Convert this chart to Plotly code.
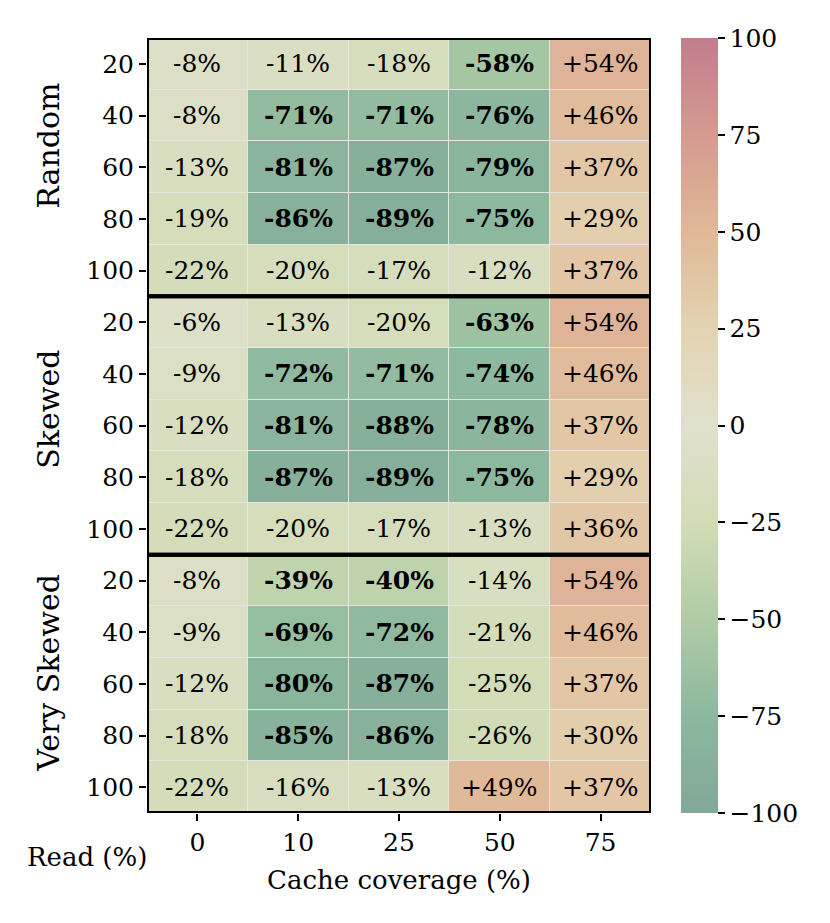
import plotly.graph_objects as go

# data
coverage = ["0", "10", "25", "50", "75"]
reads = ["20", "40", "60", "80", "100"]
groups = ["Random", "Skewed", "Very Skewed"]

random_vals = [
    [-8, -11, -18, -58, 54],
    [-8, -71, -71, -76, 46],
    [-13, -81, -87, -79, 37],
    [-19, -86, -89, -75, 29],
    [-22, -20, -17, -12, 37],
]
skewed_vals = [
    [-6, -13, -20, -63, 54],
    [-9, -72, -71, -74, 46],
    [-12, -81, -88, -78, 37],
    [-18, -87, -89, -75, 29],
    [-22, -20, -17, -13, 36],
]
very_skewed_vals = [
    [-8, -39, -40, -14, 54],
    [-9, -69, -72, -21, 46],
    [-12, -80, -87, -25, 37],
    [-18, -85, -86, -26, 30],
    [-22, -16, -13, 49, 37],
]

z = random_vals + skewed_vals + very_skewed_vals
n_rows = len(z)
n_cols = len(coverage)

colorscale = [
    [0.0, "#82a898"],
    [0.125, "#8cb89e"],
    [0.25, "#b0cca6"],
    [0.375, "#d2dcb6"],
    [0.5, "#e0e0cc"],
    [0.625, "#e3d3b1"],
    [0.75, "#e0b898"],
    [0.875, "#d69a90"],
    [1.0, "#c17e8c"],
]

font = "DejaVu Serif"
fs = 25

fig = go.Figure(go.Heatmap(
    z=z,
    x=list(range(n_cols)),
    y=list(range(n_rows)),
    zmin=-100, zmax=100,
    colorscale=colorscale,
    xgap=1, ygap=1,
    hoverinfo="skip",
    colorbar=dict(
        x=1.06, xanchor="left", xpad=0, y=0.5, yanchor="middle", ypad=0,
        len=1.0, lenmode="fraction",
        thickness=37, outlinewidth=0,
        tickvals=[-100, -75, -50, -25, 0, 25, 50, 75, 100],
        ticktext=["\u2212100", "\u221275", "\u221250", "\u221225", "0", "25", "50", "75", "100"],
        ticks="outside", ticklen=7, tickwidth=1.5, tickcolor="black",
        tickfont=dict(family=font, size=fs, color="black"),
    ),
))

# cell labels
for r, row in enumerate(z):
    for c, v in enumerate(row):
        label = f"{v:+d}%" if v > 0 else f"{v}%"
        if v <= -30:
            label = f"<b>{label}</b>"
        fig.add_annotation(x=c, y=r, text=label, showarrow=False,
                           font=dict(family=font, size=fs, color="black"))

# panel borders and group labels (labels sit a little above each panel's middle)
label_shift = [-0.41, -0.32, -0.21]
for g, name in enumerate(groups):
    y0 = g * len(reads) - 0.5
    y1 = (g + 1) * len(reads) - 0.5
    fig.add_shape(type="rect", xref="x", yref="y", x0=-0.5, x1=n_cols - 0.5,
                  y0=y0, y1=y1, line=dict(color="black", width=4))
    fig.add_annotation(xref="paper", yref="y", x=-0.195, y=(y0 + y1) / 2 + label_shift[g],
                       text=name, textangle=-90, showarrow=False,
                       xanchor="center", yanchor="middle",
                       font=dict(family=font, size=30, color="black"))

fig.add_annotation(xref="paper", yref="paper", x=-0.119, y=-0.057,
                   text="Read (%)", showarrow=False, xanchor="center", yanchor="middle",
                   font=dict(family=font, size=fs + 1, color="black"))

fig.update_xaxes(
    tickvals=list(range(n_cols)), ticktext=coverage,
    range=[-0.5, n_cols - 0.5], showgrid=False, zeroline=False,
    ticks="outside", ticklen=7, tickwidth=1.5, tickcolor="black",
    tickfont=dict(family=font, size=fs, color="black"),
    title=dict(text="Cache coverage (%)", font=dict(family=font, size=fs + 1, color="black"), standoff=14),
)
fig.update_yaxes(
    tickvals=list(range(n_rows)), ticktext=reads * len(groups),
    range=[n_rows - 0.5, -0.5], showgrid=False, zeroline=False,
    ticks="outside", ticklen=7, tickwidth=1.5, tickcolor="black",
    tickfont=dict(family=font, size=fs, color="black"),
)

fig.update_layout(
    width=830, height=923,
    margin=dict(l=139, r=187, t=30, b=118),
    plot_bgcolor="#e6e6e0",
    paper_bgcolor="white",
    font=dict(family=font, color="black"),
)

fig.write_html("out.html")
